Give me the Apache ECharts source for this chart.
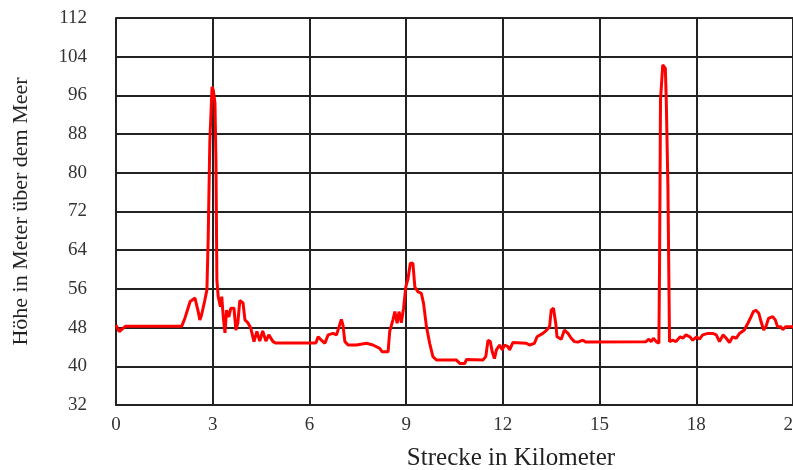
<!DOCTYPE html>
<html>
<head>
<meta charset="utf-8">
<script src="https://cdn.jsdelivr.net/npm/echarts@6/dist/echarts.min.js"></script>
<style>html,body{margin:0;padding:0;background:#fff}#c{width:793px;height:470px}</style>
</head>
<body>
<div id="c"></div>
<script>
var km = [0, 0.1, 0.15, 0.3, 0.4, 1.0, 2.04, 2.14, 2.3, 2.45, 2.55, 2.6, 2.65, 2.75, 2.82, 2.86, 2.88, 2.91, 2.95, 2.98, 3.02, 3.07, 3.10, 3.13, 3.17, 3.24, 3.28, 3.33, 3.38, 3.43, 3.5, 3.56, 3.66, 3.72, 3.78, 3.84, 3.94, 4.0, 4.09, 4.18, 4.28, 4.37, 4.46, 4.55, 4.65, 4.74, 4.87, 4.96, 5.5, 6.2, 6.27, 6.37, 6.48, 6.58, 6.73, 6.84, 6.92, 6.99, 7.04, 7.1, 7.2, 7.46, 7.77, 7.97, 8.18, 8.26, 8.44, 8.49, 8.59, 8.65, 8.72, 8.78, 8.85, 8.92, 8.99, 9.06, 9.13, 9.21, 9.27, 9.37, 9.47, 9.54, 9.63, 9.73, 9.83, 9.94, 10.04, 10.45, 10.56, 10.66, 10.82, 10.87, 11.38, 11.47, 11.54, 11.61, 11.67, 11.74, 11.8, 11.9, 11.98, 12.05, 12.16, 12.21, 12.31, 12.73, 12.83, 12.98, 13.06, 13.24, 13.36, 13.45, 13.5, 13.57, 13.64, 13.68, 13.81, 13.91, 14.02, 14.12, 14.22, 14.33, 14.48, 14.58, 16.44, 16.53, 16.6, 16.67, 16.76, 16.84, 16.86, 16.89, 16.96, 17.04, 17.07, 17.12, 17.17, 17.27, 17.37, 17.5, 17.58, 17.68, 17.8, 17.89, 18.01, 18.1, 18.2, 18.36, 18.51, 18.62, 18.72, 18.83, 18.93, 19.03, 19.13, 19.24, 19.34, 19.49, 19.6, 19.7, 19.77, 19.85, 19.94, 20.01, 20.09, 20.16, 20.24, 20.37, 20.45, 20.52, 20.62, 20.68, 20.78, 21];
var hoehe = [48.5, 47.2, 47.2, 48.3, 48.3, 48.3, 48.3, 50, 53.4, 54.1, 51.3, 49.6, 50.5, 53.5, 55.8, 66.5, 66.5, 86.4, 86.4, 97.8, 97, 94.4, 82.6, 57.8, 54.4, 52.3, 54.4, 50, 46.9, 51.6, 50.2, 52, 52, 47.5, 49, 53.6, 53.1, 49.6, 49, 47.9, 45.1, 47.2, 45.2, 47.3, 45.2, 46.5, 45.1, 44.8, 44.8, 44.8, 46.1, 45.4, 44.75, 46.5, 46.8, 46.5, 48.2, 49.7, 48.5, 45.1, 44.4, 44.4, 44.75, 44.4, 43.7, 43, 43, 47.2, 49.6, 51.3, 48.9, 51.3, 49, 52, 56.4, 58.2, 61.3, 61.3, 56.4, 55.4, 55.1, 53, 48.2, 44.75, 42, 41.3, 41.3, 41.3, 41.3, 40.6, 40.6, 41.4, 41.3, 42, 45.4, 45.1, 43, 41.6, 43.4, 44.4, 43.4, 44.4, 44.05, 43.4, 44.9, 44.75, 44.4, 44.75, 46.1, 46.8, 47.5, 48.2, 51.6, 52, 48.9, 46.1, 45.6, 47.5, 46.8, 45.8, 45.1, 45, 45.4, 45, 45.1, 45.6, 45.1, 45.8, 45.1, 44.75, 60.3, 95, 102.3, 101.6, 94.7, 77.1, 45.1, 45.4, 45.1, 46.1, 45.8, 46.5, 46.1, 45.4, 46.1, 45.6, 46.5, 46.8, 46.8, 46.5, 45.1, 46.5, 45.8, 44.9, 46.1, 45.8, 46.8, 47.5, 48.9, 50.25, 51.3, 51.6, 50.95, 49.2, 47.5, 48.2, 49.9, 50.25, 49.6, 48.2, 48.2, 47.6, 48.2, 48.2];
var xTicks = [0, 3, 6, 9, 12, 15, 18, 21];
var yTicks = [32, 40, 48, 56, 64, 72, 80, 88, 96, 104, 112];

var pts = km.map(function (k, i) { return [k, hoehe[i]]; });
var font = '"Liberation Serif", "Times New Roman", serif';
var chart = echarts.init(document.getElementById('c'));
chart.setOption({
  animation: false,
  grid: { left: 116, right: 0, top: 18, bottom: 65, containLabel: false, outerBoundsMode: 'none' },
  xAxis: {
    type: 'value', min: xTicks[0], max: xTicks[xTicks.length - 1], interval: 3,
    name: 'Strecke in Kilometer', nameLocation: 'middle', nameGap: 41,
    nameTextStyle: { fontFamily: font, fontSize: 25, color: '#222', padding: [0, 0, 0, 113] },
    axisLine: { lineStyle: { color: '#222', width: 2 } },
    axisTick: { show: false },
    axisLabel: { fontFamily: font, fontSize: 19, color: '#333', margin: 11 },
    splitLine: { show: true, lineStyle: { color: '#222', width: 2 } }
  },
  yAxis: {
    type: 'value', min: yTicks[0], max: yTicks[yTicks.length - 1], interval: 8,
    name: 'Höhe in Meter über dem Meer', nameLocation: 'middle', nameGap: 84,
    nameTextStyle: { fontFamily: font, fontSize: 22, color: '#222' },
    axisLine: { show: true, lineStyle: { color: '#222', width: 2 } },
    axisTick: { show: false },
    axisLabel: { fontFamily: font, fontSize: 19, color: '#333', margin: 29 },
    splitLine: { show: true, lineStyle: { color: '#222', width: 2 } }
  },
  series: [{
    type: 'line', data: pts, showSymbol: false, symbol: 'none',
    lineStyle: { color: '#ff0000', width: 3 }, z: 5
  }]
});
</script>
</body>
</html>
